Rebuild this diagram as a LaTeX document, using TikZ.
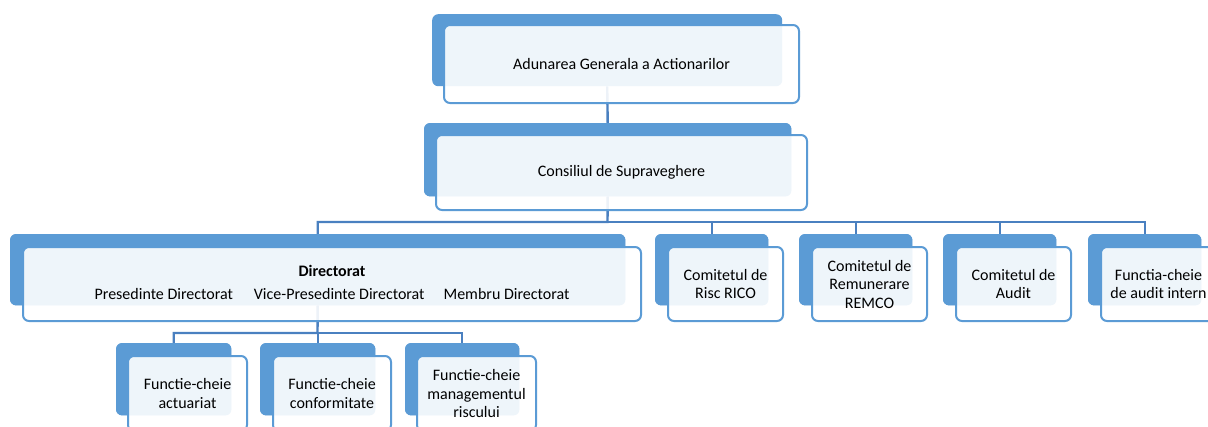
\documentclass[tikz,border=0pt]{standalone}
\usepackage{fontspec}
\setmainfont{Carlito}
\definecolor{bblue}{HTML}{5B9BD5}
\definecolor{cblue}{HTML}{4A80C0}
\tikzset{
  x=1pt, y=-1pt,
  backbox/.style={fill=bblue, draw=none, rounded corners=6pt, anchor=north west, inner sep=0pt},
  frontbox/.style={fill=white, fill opacity=0.9, text opacity=1, draw=bblue, line width=2pt,
    rounded corners=6pt, anchor=north west, inner sep=0pt, align=center,
    font=\fontsize{16pt}{18.5pt}\selectfont},
  conn/.style={draw=cblue, line width=2.4pt},
}
\begin{document}
\begin{tikzpicture}
\useasboundingbox (0,0) rectangle (1208,426);
\clip (0,0) rectangle (1208,426);
\fill[white] (0,0) rectangle (1208,426);
% back boxes
\node[backbox, minimum width=350pt, minimum height=72pt] (agaB) at (432,14) {};
\node[backbox, minimum width=367pt, minimum height=73pt] (csB) at (424,123) {};
\node[backbox, minimum width=615pt, minimum height=71pt] (dirB) at (10,234) {};
\node[backbox, minimum width=113pt, minimum height=71pt] (ricoB) at (655,234) {};
\node[backbox, minimum width=113pt, minimum height=71pt] (remB) at (799,234) {};
\node[backbox, minimum width=113pt, minimum height=71pt] (audB) at (943,234) {};
\node[backbox, minimum width=113pt, minimum height=71pt] (intB) at (1088,234) {};
\node[backbox, minimum width=115pt, minimum height=72pt] (actB) at (116,343) {};
\node[backbox, minimum width=115pt, minimum height=72pt] (confB) at (260,343) {};
\node[backbox, minimum width=114pt, minimum height=72pt] (riscB) at (405,343) {};
% bus coordinates
\coordinate (bus1) at (607.5,222);
\coordinate (bus2) at (317.5,333);
% connectors
\draw[conn] (agaB.south) -- (csB.north);
\draw[conn] (csB.south) -- (bus1) -| (dirB.north);
\draw[conn] (bus1) -| (ricoB.north);
\draw[conn] (bus1) -| (remB.north);
\draw[conn] (bus1) -| (audB.north);
\draw[conn] (bus1) -| (intB.north);
\draw[conn] (dirB.south) -- (bus2) -| (actB.north);
\draw[conn] (bus2) -| (confB.north);
\draw[conn] (bus2) -| (riscB.north);
% back boxes redrawn over connectors
\foreach \n in {csB,dirB,ricoB,remB,audB,intB,actB,confB,riscB}{
  \fill[bblue, rounded corners=6pt] (\n.north west) rectangle (\n.south east);
}
% front boxes
\node[frontbox, minimum width=355pt, minimum height=78pt] (aga) at (443,24) {Adunarea Generala a Actionarilor};
\node[frontbox, minimum width=371pt, minimum height=75pt] (cs) at (435,134) {Consiliul de Supraveghere};
\node[frontbox, minimum width=618pt, minimum height=74pt] (dir) at (22,246)
  {\textbf{Directorat}\\[4.5pt]Presedinte Directorat\hspace{21pt}Vice-Presedinte Directorat\hspace{19pt}Membru Directorat\rule[-3pt]{0pt}{1pt}};
\node[frontbox, minimum width=115pt, minimum height=74pt] (rico) at (667,246) {Comitetul de\\Risc RICO};
\node[frontbox, minimum width=115pt, minimum height=74pt] (rem) at (811,246) {Comitetul de\\Remunerare\\REMCO};
\node[frontbox, minimum width=115pt, minimum height=74pt] (aud) at (955,246) {Comitetul de\\Audit};
\node[frontbox, minimum width=115pt, minimum height=74pt] (int) at (1100,246) {Functia-cheie\\de audit intern};
\node[frontbox, minimum width=119pt, minimum height=75pt] (act) at (127,355) {Functie-cheie\\actuariat};
\node[frontbox, minimum width=118pt, minimum height=75pt] (conf) at (272,355) {Functie-cheie\\conformitate};
\node[frontbox, minimum width=119pt, minimum height=75pt] (risc) at (416,355) {Functie-cheie\\managementul\\riscului};
\end{tikzpicture}
\end{document}
